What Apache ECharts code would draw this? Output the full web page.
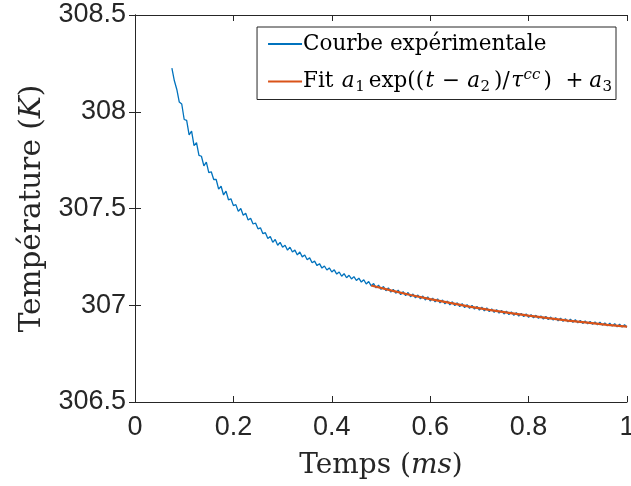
<!DOCTYPE html>
<html>
<head>
<meta charset="utf-8">
<script src="https://cdn.jsdelivr.net/npm/echarts@6/dist/echarts.min.js"></script>
<style>
html,body{margin:0;padding:0;background:#fff;}
#chart{width:631px;height:486px;}
</style>
</head>
<body>
<div id="chart"></div>
<script>
// Experimental curve: time (ms) and temperature (K)
const expTime = [
0.075,0.080,0.085,0.090,0.095,0.100,0.105,0.110,0.115,0.120,0.125,0.130,0.135,0.140,0.145,0.150,0.155,0.160,0.165,0.170,
0.175,0.180,0.185,0.190,0.195,0.200,0.205,0.210,0.215,0.220,0.225,0.230,0.235,0.240,0.245,0.250,0.255,0.260,0.265,0.270,
0.275,0.280,0.285,0.290,0.295,0.300,0.305,0.310,0.315,0.320,0.325,0.330,0.335,0.340,0.345,0.350,0.355,0.360,0.365,0.370,
0.375,0.380,0.385,0.390,0.395,0.400,0.405,0.410,0.415,0.420,0.425,0.430,0.435,0.440,0.445,0.450,0.455,0.460,0.465,0.470,
0.475,0.480,0.485,0.490,0.495,0.500,0.505,0.510,0.515,0.520,0.525,0.530,0.535,0.540,0.545,0.550,0.555,0.560,0.565,0.570,
0.575,0.580,0.585,0.590,0.595,0.600,0.605,0.610,0.615,0.620,0.625,0.630,0.635,0.640,0.645,0.650,0.655,0.660,0.665,0.670,
0.675,0.680,0.685,0.690,0.695,0.700,0.705,0.710,0.715,0.720,0.725,0.730,0.735,0.740,0.745,0.750,0.755,0.760,0.765,0.770,
0.775,0.780,0.785,0.790,0.795,0.800,0.805,0.810,0.815,0.820,0.825,0.830,0.835,0.840,0.845,0.850,0.855,0.860,0.865,0.870,
0.875,0.880,0.885,0.890,0.895,0.900,0.905,0.910,0.915,0.920,0.925,0.930,0.935,0.940,0.945,0.950,0.955,0.960,0.965,0.970,
0.975,0.980,0.985,0.990,0.995,1.000
];
const expTemp = [
308.225,308.16,308.115,308.05,308.04,307.96,307.955,307.88,307.90,307.825,307.84,307.775,307.77,307.72,307.74,307.685,307.69,307.65,307.65,307.60,
307.615,307.57,307.59,307.545,307.55,307.515,307.52,307.485,307.50,307.465,307.475,307.44,307.45,307.42,307.425,307.395,307.40,307.37,307.375,307.345,
307.355,307.325,307.34,307.31,307.325,307.30,307.31,307.285,307.30,307.275,307.285,307.26,307.275,307.25,307.26,307.235,307.245,307.22,307.228,307.205,
307.215,307.192,307.203,307.182,307.193,307.172,307.183,307.161,307.172,307.15,307.163,307.142,307.155,307.136,307.148,307.128,307.14,307.12,307.132,307.11,
307.123,307.100,307.112,307.090,307.104,307.082,307.097,307.075,307.090,307.068,307.082,307.062,307.078,307.055,307.070,307.050,307.066,307.044,307.058,307.038,
307.053,307.033,307.048,307.027,307.043,307.022,307.037,307.017,307.033,307.012,307.027,307.007,307.022,307.002,307.018,306.998,307.013,306.993,307.008,306.988,
307.003,306.984,306.999,306.980,306.994,306.975,306.990,306.971,306.986,306.967,306.981,306.963,306.977,306.959,306.973,306.955,306.969,306.952,306.966,306.948,
306.962,306.944,306.958,306.941,306.955,306.938,306.951,306.935,306.948,306.932,306.945,306.929,306.942,306.926,306.939,306.923,306.936,306.920,306.933,306.917,
306.930,306.914,306.928,306.912,306.925,306.909,306.922,306.906,306.919,306.904,306.916,306.901,306.914,306.899,306.912,306.897,306.909,306.894,306.907,306.892,
306.905,306.889,306.902,306.887,306.899,306.886
];
// Fit curve
const fitTime = [0.48,0.52,0.56,0.60,0.64,0.68,0.72,0.76,0.80,0.84,0.88,0.92,0.96,1.00];
const fitTemp = [307.102,307.077,307.053,307.032,307.012,306.993,306.976,306.961,306.946,306.933,306.921,306.910,306.899,306.890];

const xTicks = [0,0.2,0.4,0.6,0.8,1];
const yTicks = [306.5,307,307.5,308,308.5];
const seriesNames = ['Courbe expérimentale','Fit'];

const expData = expTime.map((t,i)=>[t,expTemp[i]]);
const fitData = fitTime.map((t,i)=>[t,fitTemp[i]]);

const axisColor = '#262626';
const serif = '"DejaVu Serif", "Liberation Serif", serif';
const sans = '"Liberation Sans", Arial, sans-serif';

const chart = echarts.init(document.getElementById('chart'), null, {renderer:'canvas'});
const commonAxisLine = {show:true, lineStyle:{color:axisColor, width:1}};
const LH = 26;
chart.setOption({
  animation:false,
  backgroundColor:'#fff',
  grid:{left:135, right:4, top:15, bottom:84, containLabel:false, outerBoundsMode:'none'},
  legend:{
    show:true,
    right:15, top:27,
    orient:'vertical',
    backgroundColor:'#fff',
    borderColor:axisColor, borderWidth:1,
    padding:[6,4,5,11],
    itemGap:13,
    itemWidth:34, itemHeight:2,
    data:[{name:seriesNames[0], icon:'rect'},{name:seriesNames[1], icon:'rect'}],
    formatter:function(name){
      if(name===seriesNames[0]) return '{a|Courbe expérimentale}';
      return '{a|Fit }{i|a}{s|1}{a|exp((}{i|t}{m|−}{i|a}{s|2}{a|)/}{i|τ}{p|cc}{a|) }{g|+}{i|a}{s|3}';
    },
    textStyle:{
      color:'#000',
      padding:[0,0,0,-4],
      rich:{
        a:{fontFamily:serif, fontSize:21.5, color:'#000', lineHeight:LH},
        i:{fontFamily:serif, fontStyle:'italic', fontSize:21.5, color:'#000', lineHeight:LH, padding:[0,0.5,0,1.5]},
        m:{fontFamily:serif, fontSize:21.5, color:'#000', lineHeight:LH, padding:[0,6,0,7]},
        g:{fontFamily:serif, fontSize:21.5, color:'#000', lineHeight:LH, padding:[0,4,0,7]},
        s:{fontFamily:serif, fontSize:15, color:'#000', padding:[11,4,0,0]},
        p:{fontFamily:serif, fontStyle:'italic', fontSize:15, color:'#000', padding:[0,3,12,0]}
      }
    }
  },
  xAxis:[{
    type:'value', min:0, max:1, interval:0.2, position:'bottom',
    axisLine:commonAxisLine,
    axisTick:{show:true, inside:true, length:6, lineStyle:{color:axisColor}},
    splitLine:{show:false},
    axisLabel:{color:axisColor, fontFamily:sans, fontSize:27, margin:12,
      formatter:function(v){ return xTicks.indexOf(+v.toFixed(1))>=0 ? String(+v.toFixed(1)) : ''; }},
    name:'{a|Temps (}{i|ms}{a|)}',
    nameLocation:'middle', nameGap:50,
    nameTextStyle:{rich:{
      a:{fontFamily:serif, fontSize:28, color:axisColor},
      i:{fontFamily:serif, fontStyle:'italic', fontSize:28, color:axisColor}
    }}
  },{
    type:'value', min:0, max:1, interval:0.2, position:'top',
    axisLine:commonAxisLine,
    axisTick:{show:true, inside:true, length:6, lineStyle:{color:axisColor}},
    axisLabel:{show:false}, splitLine:{show:false}
  }],
  yAxis:[{
    type:'value', min:306.5, max:308.5, interval:0.5, position:'left',
    axisLine:commonAxisLine,
    axisTick:{show:true, inside:true, length:6, lineStyle:{color:axisColor}},
    splitLine:{show:false},
    axisLabel:{color:axisColor, fontFamily:sans, fontSize:27, margin:9,
      formatter:function(v){ return String(+v.toFixed(1)); }},
    name:'{a|Température (}{i|K}{a|)}',
    nameLocation:'middle', nameGap:86, nameRotate:90,
    nameTextStyle:{rich:{
      a:{fontFamily:serif, fontSize:29.5, color:axisColor},
      i:{fontFamily:serif, fontStyle:'italic', fontSize:29.5, color:axisColor}
    }}
  },{
    type:'value', min:306.5, max:308.5, interval:0.5, position:'right',
    axisLine:commonAxisLine,
    axisTick:{show:true, inside:true, length:6, lineStyle:{color:axisColor}},
    axisLabel:{show:false}, splitLine:{show:false}
  }],
  series:[{
    name:seriesNames[0], type:'line', data:expData, showSymbol:false, symbol:'none',
    lineStyle:{color:'#0072BD', width:1.3}, itemStyle:{color:'#0072BD'}, z:2
  },{
    name:seriesNames[1], type:'line', data:fitData, showSymbol:false, symbol:'none', smooth:false,
    lineStyle:{color:'#D95319', width:2.2}, itemStyle:{color:'#D95319'}, z:3
  }]
});
</script>
</body>
</html>
